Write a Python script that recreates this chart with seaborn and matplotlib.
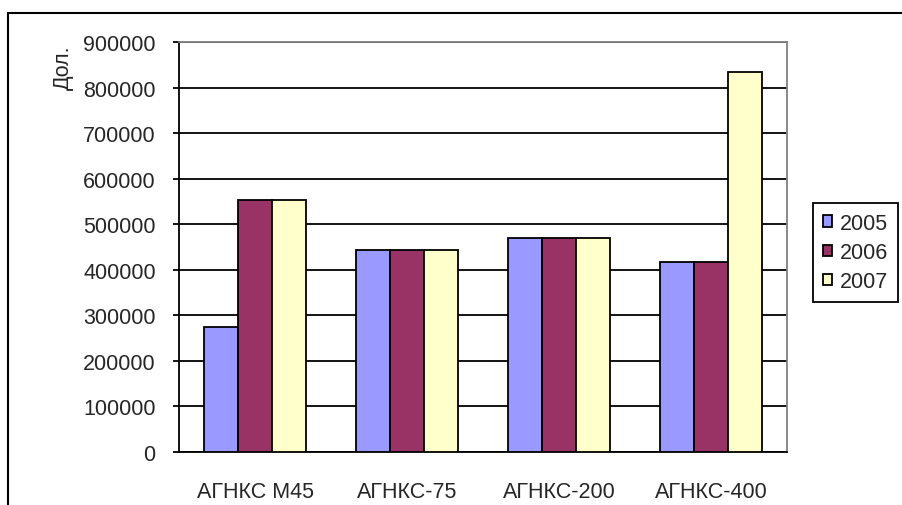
import matplotlib
matplotlib.use("Agg")
import matplotlib.pyplot as plt
from matplotlib.patches import Rectangle, Patch
from matplotlib.ticker import FixedLocator
import pandas as pd
import seaborn as sns

categories = ["АГНКС М45", "АГНКС-75", "АГНКС-200", "АГНКС-400"]
years = ["2005", "2006", "2007"]
values_2005 = [274000, 444000, 470000, 418000]
values_2006 = [553000, 444000, 470000, 418000]
values_2007 = [553000, 444000, 470000, 834000]
y_ticks = [0, 100000, 200000, 300000, 400000, 500000, 600000, 700000, 800000, 900000]
colors = ["#9999FF", "#993366", "#FFFFCC"]

df = pd.DataFrame({
    "station": categories * 3,
    "year": [y for y in years for _ in categories],
    "value": values_2005 + values_2006 + values_2007,
})

sns.set_style("white")
plt.rcParams["font.family"] = ["Liberation Sans", "DejaVu Sans"]

FS = 15.5
W, H = 902, 506
fig = plt.figure(figsize=(W / 100, H / 100), dpi=100)
ax = fig.add_axes([179.3 / W, 1 - 452.7 / H, (787 - 179.3) / W, (452.7 - 43.3) / H])

sns.barplot(data=df, x="station", y="value", hue="year", order=categories,
            hue_order=years, palette=colors, width=0.671, gap=0,
            edgecolor="black", linewidth=1.3, saturation=1, legend=False, ax=ax, zorder=3)

ax.set_xlim(-0.5, 3.5)
ax.set_ylim(0, 900000)
ax.set_yticks(y_ticks)
ax.set_yticklabels([str(v) for v in y_ticks], fontsize=FS)
ax.yaxis.grid(True, color="black", linewidth=1.3, zorder=0)
ax.set_axisbelow(True)
ax.set_xlabel("")
ax.set_ylabel("")

# category labels centred, tick marks at category boundaries
ax.tick_params(axis="x", which="major", length=0, labelsize=FS, pad=21)
ax.xaxis.set_minor_locator(FixedLocator([-0.5, 0.5, 1.5, 2.5, 3.5]))
ax.tick_params(axis="x", which="minor", length=6, width=1.3, direction="out", color="black")
ax.tick_params(axis="y", length=4, width=1.3, direction="out", color="black", pad=13, left=True)

for side in ["left", "bottom"]:
    ax.spines[side].set_color("black")
    ax.spines[side].set_linewidth(1.3)
for side in ["top", "right"]:
    ax.spines[side].set_color("#808080")
    ax.spines[side].set_linewidth(1.3)

fig.text(63 / W, 1 - 68 / H, "Дол.", rotation=90, ha="center", va="center", fontsize=FS)

handles = [Patch(facecolor=c, edgecolor="black", linewidth=1.3) for c in colors]
fig.legend(handles, years, loc="upper left", bbox_to_anchor=(813 / W, 1 - 204 / H),
           bbox_transform=fig.transFigure, borderaxespad=0, fontsize=FS,
           handlelength=0.42, handleheight=0.42, handletextpad=0.4,
           labelspacing=0.38, borderpad=0.45, frameon=True, fancybox=False,
           edgecolor="black", framealpha=1)
fig.legends[0].get_frame().set_linewidth(1.3)

fig.add_artist(Rectangle((8 / W, -0.1), 1.2, 1.1 - 14 / H, transform=fig.transFigure,
                         fill=False, edgecolor="black", linewidth=1.5))

fig.savefig("out.png", dpi=100)
